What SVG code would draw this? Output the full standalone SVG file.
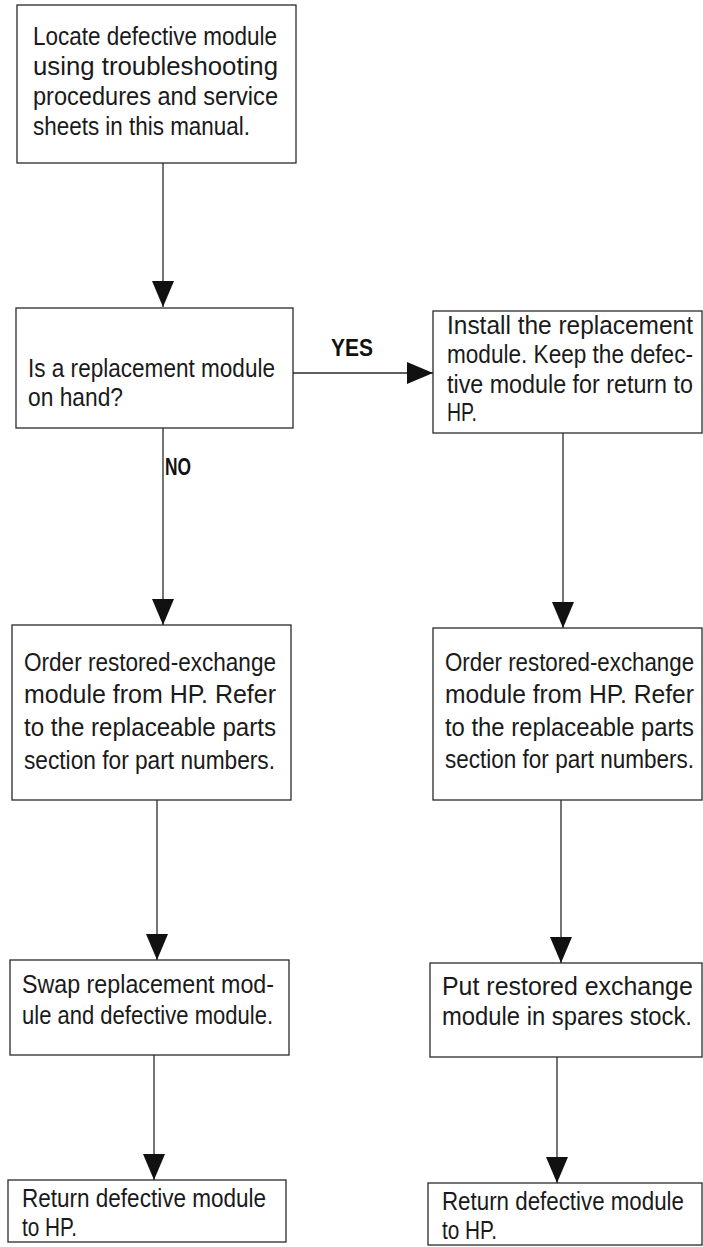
<svg xmlns="http://www.w3.org/2000/svg" width="703" height="1247" viewBox="0 0 703 1247">
<style>
.box{fill:#fff;stroke:#2a2a2a;stroke-width:1.3}
.t{font-family:"Liberation Sans",Arial,sans-serif;font-size:26px;fill:#1a1a1a}
.lbl{font-family:"Liberation Sans",Arial,sans-serif;font-size:23px;font-weight:bold;fill:#111}
.con{stroke:#2a2a2a;stroke-width:1.3;fill:none}
</style>
<defs>
<marker id="ah" markerUnits="userSpaceOnUse" markerWidth="27" markerHeight="24" refX="26" refY="12" orient="auto">
<path d="M0,1 L26,12 L0,23 z" fill="#111"/>
</marker>
</defs>
<rect width="703" height="1247" fill="#fff"/>
<g id="connectors">
<path class="con" d="M163,163 V307" marker-end="url(#ah)"/>
<path class="con" d="M293,373 H433" marker-end="url(#ah)"/>
<path class="con" d="M163,428 V625" marker-end="url(#ah)"/>
<path class="con" d="M563,433 V628" marker-end="url(#ah)"/>
<path class="con" d="M157,800 V960" marker-end="url(#ah)"/>
<path class="con" d="M561,800 V963" marker-end="url(#ah)"/>
<path class="con" d="M154,1055 V1180" marker-end="url(#ah)"/>
<path class="con" d="M557,1057 V1183" marker-end="url(#ah)"/>
<text class="lbl" x="331" y="356" textLength="42" lengthAdjust="spacingAndGlyphs">YES</text>
<text class="lbl" x="165" y="475" textLength="26" lengthAdjust="spacingAndGlyphs">NO</text>
</g>
<g id="n1">
<rect class="box" x="17" y="5" width="279" height="158"/>
<text class="t" x="33" y="45" textLength="244" lengthAdjust="spacingAndGlyphs">Locate defective module</text>
<text class="t" x="33" y="75" textLength="245" lengthAdjust="spacingAndGlyphs">using troubleshooting</text>
<text class="t" x="33" y="105" textLength="245" lengthAdjust="spacingAndGlyphs">procedures and service</text>
<text class="t" x="33" y="135" textLength="217" lengthAdjust="spacingAndGlyphs">sheets in this manual.</text>
</g>
<g id="n2">
<rect class="box" x="16" y="308" width="277" height="120"/>
<text class="t" x="28" y="377" textLength="247" lengthAdjust="spacingAndGlyphs">Is a replacement module</text>
<text class="t" x="28" y="406" textLength="95" lengthAdjust="spacingAndGlyphs">on hand?</text>
</g>
<g id="n3">
<rect class="box" x="433" y="311" width="269" height="122"/>
<g transform="translate(447,0) scale(0.88,1)">
<text class="t" x="0" y="334" textLength="279.5" lengthAdjust="spacingAndGlyphs">Install the replacement</text>
<text class="t" x="0" y="363" textLength="279.5" lengthAdjust="spacingAndGlyphs">module. Keep the defec-</text>
<text class="t" x="0" y="393" textLength="279.5" lengthAdjust="spacingAndGlyphs">tive module for return to</text>
<text class="t" x="0" y="421" textLength="34" lengthAdjust="spacingAndGlyphs">HP.</text>
</g>
</g>
<g id="n4">
<rect class="box" x="12" y="625" width="279" height="175"/>
<text class="t" x="24" y="671" textLength="252" lengthAdjust="spacingAndGlyphs">Order restored-exchange</text>
<text class="t" x="24" y="703" textLength="252" lengthAdjust="spacingAndGlyphs">module from HP. Refer</text>
<text class="t" x="24" y="736" textLength="252" lengthAdjust="spacingAndGlyphs">to the replaceable parts</text>
<text class="t" x="24" y="769" textLength="251" lengthAdjust="spacingAndGlyphs">section for part numbers.</text>
</g>
<g id="n5">
<rect class="box" x="433" y="628" width="269" height="172"/>
<g transform="translate(445,0) scale(0.88,1)">
<text class="t" x="0" y="671" textLength="283" lengthAdjust="spacingAndGlyphs">Order restored-exchange</text>
<text class="t" x="0" y="703" textLength="283" lengthAdjust="spacingAndGlyphs">module from HP. Refer</text>
<text class="t" x="0" y="736" textLength="283" lengthAdjust="spacingAndGlyphs">to the replaceable parts</text>
<text class="t" x="0" y="768" textLength="283" lengthAdjust="spacingAndGlyphs">section for part numbers.</text>
</g>
</g>
<g id="n6">
<rect class="box" x="10" y="960" width="279" height="95"/>
<text class="t" x="22" y="993" textLength="252" lengthAdjust="spacingAndGlyphs">Swap replacement mod-</text>
<text class="t" x="22" y="1024" textLength="251" lengthAdjust="spacingAndGlyphs">ule and defective module.</text>
</g>
<g id="n7">
<rect class="box" x="430" y="963" width="272" height="94"/>
<g transform="translate(442,0) scale(0.88,1)">
<text class="t" x="0" y="995" textLength="285" lengthAdjust="spacingAndGlyphs">Put restored exchange</text>
<text class="t" x="0" y="1025" textLength="284" lengthAdjust="spacingAndGlyphs">module in spares stock.</text>
</g>
</g>
<g id="n8">
<rect class="box" x="8" y="1180" width="278" height="62"/>
<text class="t" x="22" y="1207" textLength="244" lengthAdjust="spacingAndGlyphs">Return defective module</text>
<text class="t" x="22" y="1236" textLength="55" lengthAdjust="spacingAndGlyphs">to HP.</text>
</g>
<g id="n9">
<rect class="box" x="428" y="1183" width="274" height="62"/>
<g transform="translate(442,0) scale(0.88,1)">
<text class="t" x="0" y="1210" textLength="275" lengthAdjust="spacingAndGlyphs">Return defective module</text>
<text class="t" x="0" y="1239" textLength="62.5" lengthAdjust="spacingAndGlyphs">to HP.</text>
</g>
</g>
</svg>
